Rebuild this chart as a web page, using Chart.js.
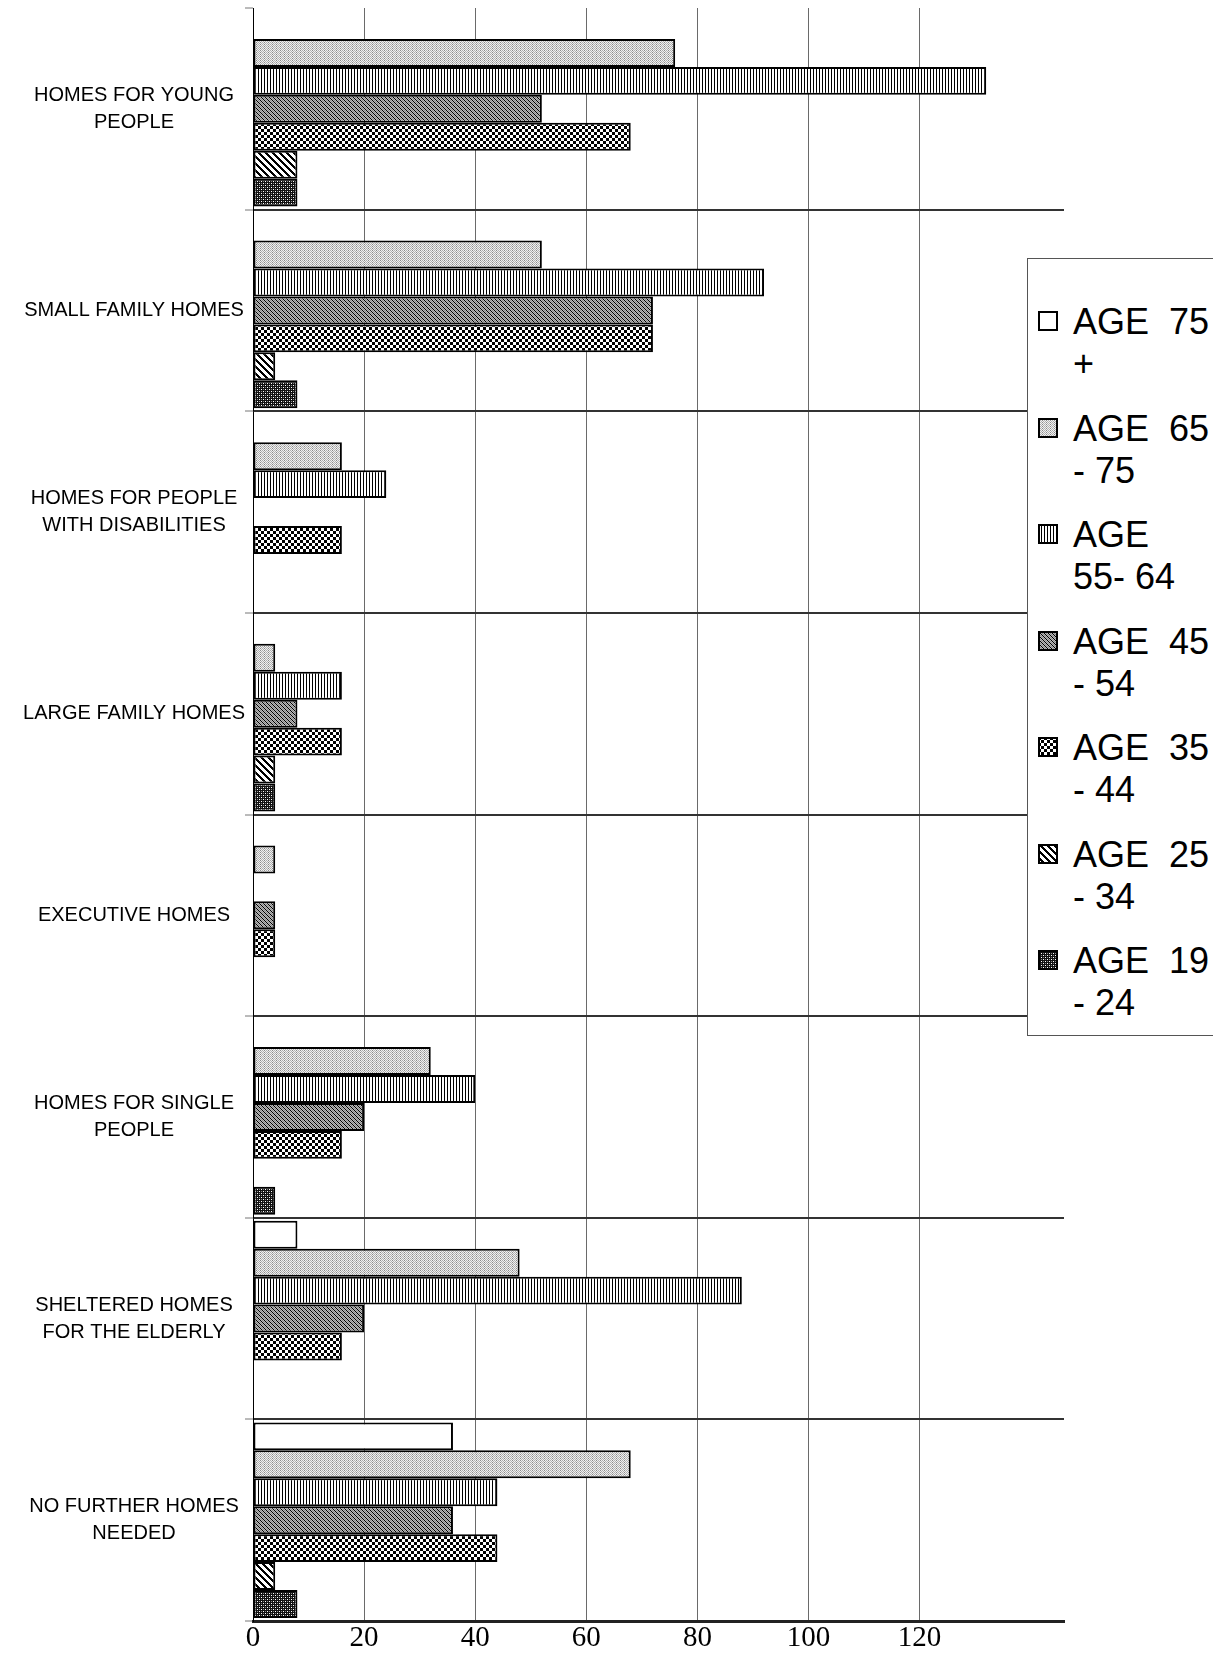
<!DOCTYPE html>
<html>
<head>
<meta charset="utf-8">
<script src="https://cdn.jsdelivr.net/npm/chart.js@4.4.1/dist/chart.umd.min.js"></script>
<style>
  html, body { margin: 0; padding: 0; background: #fff; overflow: hidden; }
  #wrap { position: relative; width: 1213px; height: 1653px; }
  #legend {
    position: absolute; left: 1027px; top: 258px; width: 200px; height: 778px;
    box-sizing: border-box; border: 1px solid #555; background: #fff;
    padding-top: 42px; font-family: 'Liberation Sans', Arial, sans-serif;
  }
  .item { position: relative; height: 84px; margin-bottom: 22.5px; }
  .item canvas { position: absolute; left: 10px; top: 10px; }
  .item span { position: absolute; left: 45px; top: 0; white-space: pre; font-size: 36px; line-height: 42px; color: #000; }
</style>
</head>
<body>
<div id="wrap">
  <canvas id="chart" width="1213" height="1653"></canvas>
  <div id="legend"></div>
</div>
<script>
// Housing need by age group (bar lengths)
var categories = [
    ['HOMES FOR YOUNG', 'PEOPLE'],
    'SMALL FAMILY HOMES',
    ['HOMES FOR PEOPLE', 'WITH DISABILITIES'],
    'LARGE FAMILY HOMES',
    'EXECUTIVE HOMES',
    ['HOMES FOR SINGLE', 'PEOPLE'],
    ['SHELTERED HOMES', 'FOR THE ELDERLY'],
    ['NO FURTHER HOMES', 'NEEDED']
];

var seriesNames = ['AGE  75\n+', 'AGE  65\n- 75', 'AGE\n55- 64', 'AGE  45\n- 54', 'AGE  35\n- 44', 'AGE  25\n- 34', 'AGE  19\n- 24'];

var age75plus = [0, 0, 0, 0, 0, 0, 8, 36];
var age65to75 = [76, 52, 16, 4, 4, 32, 48, 68];
var age55to64 = [132, 92, 24, 16, 0, 40, 88, 44];
var age45to54 = [52, 72, 0, 8, 4, 20, 20, 36];
var age35to44 = [68, 72, 16, 16, 4, 16, 16, 44];
var age25to34 = [8, 4, 0, 4, 0, 0, 0, 4];
var age19to24 = [8, 8, 0, 4, 0, 4, 0, 8];

var xTickValues = [0, 20, 40, 60, 80, 100, 120];

var seriesValues = [age75plus, age65to75, age55to64, age45to54, age35to44, age25to34, age19to24];
var fills = ['white', 'dots', 'vlines', 'hatch', 'checker', 'stripes', 'weave'];

// little pixel tiles to mimic the old black & white fill patterns
function makeTile(kind) {
    var sizes = { white: 1, dots: 4, vlines: 3, hatch: 4, checker: 6, stripes: 7, weave: 4 };
    var n = sizes[kind];
    var c = document.createElement('canvas');
    c.width = n; c.height = n;
    var g = c.getContext('2d');
    for (var y = 0; y < n; y++) {
        for (var x = 0; x < n; x++) {
            var col = '#fff';
            var d = ((x - y) % n + n) % n;
            if (kind === 'dots') col = (x + y) % 2 === 0 ? ((x % 4 === 0) ? '#8a8a8a' : '#b0b0b0') : '#f0f0f0';
            if (kind === 'vlines') col = x === 0 ? '#000' : '#fff';
            if (kind === 'hatch') col = d === 0 ? '#000' : (d === 2 ? '#8a8a8a' : '#b8b8b8');
            if (kind === 'checker') col = ((Math.floor(x / 3) + Math.floor(y / 3)) % 2 === 0) ? '#000' : '#fff';
            if (kind === 'stripes') col = d < 3 ? '#000' : '#fff';
            if (kind === 'weave') {
                col = '#111';
                if ((x === 1 && y === 1) || (x === 3 && y === 3)) col = '#fff';
                if ((x === 3 && y === 1) || (x === 1 && y === 3)) col = '#888';
            }
            g.fillStyle = col;
            g.fillRect(x, y, 1, 1);
        }
    }
    return c;
}

var canvas = document.getElementById('chart');
var ctx = canvas.getContext('2d');
var patterns = fills.map(function (k) { return ctx.createPattern(makeTile(k), 'repeat'); });

var datasets = seriesValues.map(function (vals, i) {
    return {
        label: seriesNames[i],
        data: vals,
        backgroundColor: patterns[i],
        borderColor: '#000',
        borderWidth: 2,
        borderSkipped: false,
        categoryPercentage: 0.97,
        barPercentage: 1.0
    };
});

var chart = new Chart(ctx, {
    type: 'bar',
    data: { labels: categories, datasets: datasets },
    options: {
        indexAxis: 'y',
        responsive: false,
        animation: false,
        devicePixelRatio: 1,
        layout: { padding: { top: 8, right: 149, left: 0, bottom: 0 } },
        plugins: { legend: { display: false }, tooltip: { enabled: false } },
        scales: {
            x: {
                type: 'linear',
                min: 0,
                max: 146,
                afterBuildTicks: function (s) {
                    s.ticks = xTickValues.map(function (v) { return { value: v }; });
                },
                afterFit: function (s) { s.height = 32; },
                border: { color: '#222', width: 3 },
                grid: { color: '#6a6a6a', lineWidth: 1, drawTicks: false },
                ticks: {
                    color: '#000',
                    padding: 3,
                    maxRotation: 0,
                    font: { family: "'Liberation Serif', 'Times New Roman', serif", size: 29, lineHeight: 1 }
                }
            },
            y: {
                afterFit: function (s) {
                    s.width = 253;
                    s.paddingTop = 0;
                    s.paddingBottom = 0;
                },
                border: { color: '#000', width: 1 },
                grid: {
                    offset: true,
                    color: function (c) { return c.index === 0 ? 'rgba(0,0,0,0)' : '#333'; },
                    lineWidth: 2,
                    tickColor: '#777',
                    tickWidth: 1,
                    tickLength: 8
                },
                ticks: {
                    color: '#000',
                    padding: 0,
                    crossAlign: 'center',
                    autoSkip: false,
                    font: { family: "'Liberation Sans', Arial, sans-serif", size: 20, lineHeight: 1.35 }
                }
            }
        }
    }
});

// legend drawn as an html box over the right side of the plot
var legend = document.getElementById('legend');
seriesNames.forEach(function (name, i) {
    var item = document.createElement('div');
    item.className = 'item';
    var sw = document.createElement('canvas');
    sw.width = 20; sw.height = 20;
    var g = sw.getContext('2d');
    g.fillStyle = g.createPattern(makeTile(fills[i]), 'repeat');
    g.fillRect(0, 0, 20, 20);
    g.strokeStyle = '#000';
    g.lineWidth = 2;
    g.strokeRect(1, 1, 18, 18);
    var txt = document.createElement('span');
    txt.textContent = name;
    item.appendChild(sw);
    item.appendChild(txt);
    legend.appendChild(item);
});
</script>
</body>
</html>
